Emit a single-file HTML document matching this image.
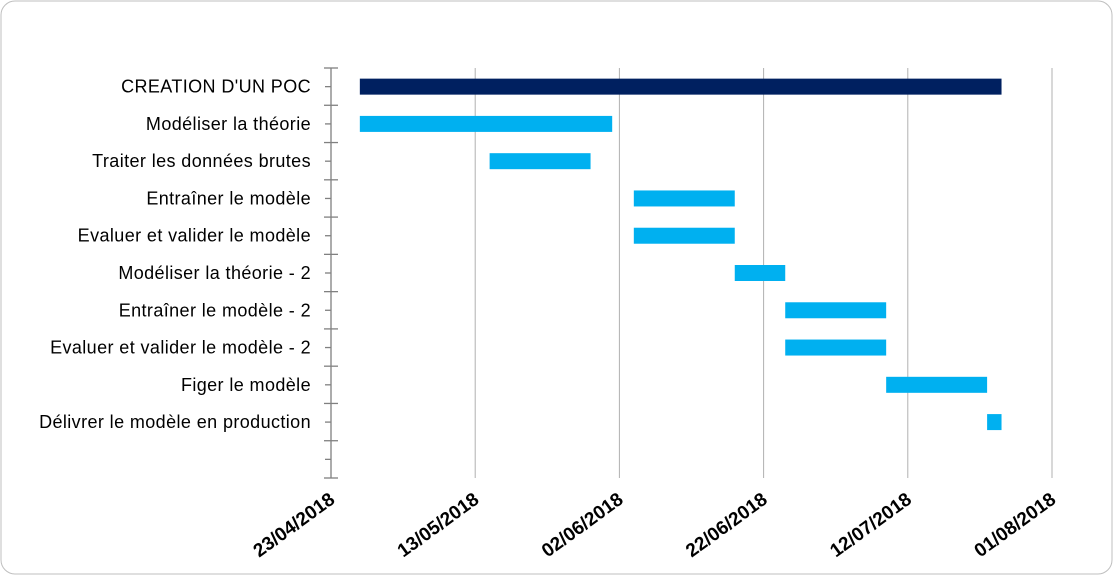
<!DOCTYPE html>
<html><head><meta charset="utf-8"><style>
html,body{margin:0;padding:0;background:#fff;}
svg{display:block;font-family:"Liberation Sans",Calibri,sans-serif;}
</style></head><body>
<svg id="c" width="1113" height="575">
<rect x="1" y="1" width="1111" height="573" rx="14" fill="#fff" stroke="#bfbfbf"/>
<g id="grid"></g><g id="bars"></g><g id="axis"></g>
</svg>
<script>
const categories=["CREATION D'UN POC","Modéliser la théorie","Traiter les données brutes","Entraîner le modèle","Evaluer et valider le modèle","Modéliser la théorie - 2","Entraîner le modèle - 2","Evaluer et valider le modèle - 2","Figer le modèle","Délivrer le modèle en production"];
const startDays=[4,4,22,42,42,56,63,63,77,91];
const durations=[89,35,14,14,14,7,14,14,14,2];
const tickDays=[0,20,40,60,80,100];
const tickLabels=["23/04/2018","13/05/2018","02/06/2018","22/06/2018","12/07/2018","01/08/2018"];
const NS="http://www.w3.org/2000/svg";
const x0=331,x1=1052,yTop=68,yBot=478,slots=11,step=(yBot-yTop)/slots;
const xs=d=>x0+(d-0)/(100-0)*(x1-x0);
const yc=i=>yTop+step*(i+0.5);
function mk(t,a,p){const e=document.createElementNS(NS,t);for(const k in a)e.setAttribute(k,a[k]);p.appendChild(e);return e;}
const grid=document.getElementById('grid'),bars=document.getElementById('bars'),axis=document.getElementById('axis');
tickDays.forEach((d,i)=>{
  if(i>0){const l=mk('line',{x1:xs(d),x2:xs(d),y1:yTop,y2:yBot,stroke:'#b0b0b0','stroke-width':1},grid);
  
  }
  const tx=xs(d)+5,ty=yBot+24;
  const t=mk('text',{x:tx,y:ty,'text-anchor':'end','font-size':19,'font-weight':'bold',fill:'#000',transform:`rotate(-36 ${tx} ${ty})`},axis);
  t.textContent=tickLabels[i];
  
  
});
const ax=mk('line',{x1:x0,x2:x0,y1:yTop,y2:yBot,stroke:'#808080','stroke-width':1.3},axis);


for(let k=0;k<=slots;k++){const y=yTop+step*k;mk('line',{x1:324,x2:338,y1:y,y2:y,stroke:'#808080','stroke-width':1.3},axis);
 if(k<slots){const ym=y+step/2;mk('line',{x1:325,x2:331,y1:ym,y2:ym,stroke:'#808080','stroke-width':1.3},axis);}}
categories.forEach((c,i)=>{
  const t=mk('text',{x:311,y:yc(i)+6,'text-anchor':'end','font-size':18,'letter-spacing':0.4,fill:'#000'},axis);
  t.textContent=c;
  
  
  const r=mk('rect',{x:xs(startDays[i]),y:yc(i)-8,width:xs(startDays[i]+durations[i])-xs(startDays[i]),height:16,fill:i===0?'#002060':'#00b0f0'},bars);
  
  
});
</script>
</body></html>
